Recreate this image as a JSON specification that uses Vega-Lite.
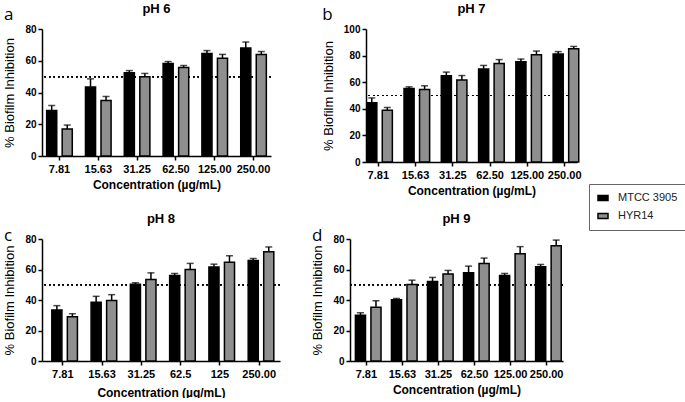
{
  "$schema": "https://vega.github.io/schema/vega-lite/v6.json",
  "padding": {"left": 3, "top": 3, "right": 0, "bottom": 0},
  "background": "white",
  "datasets": {
    "d": [
      {"ph": "pH 6", "conc": "7.81", "strain": "MTCC 3905", "v": 28.7, "e": 31.8},
      {"ph": "pH 6", "conc": "7.81", "strain": "HYR14", "v": 17, "e": 19.5},
      {"ph": "pH 6", "conc": "15.63", "strain": "MTCC 3905", "v": 43.5, "e": 48.6},
      {"ph": "pH 6", "conc": "15.63", "strain": "HYR14", "v": 35, "e": 37.5},
      {"ph": "pH 6", "conc": "31.25", "strain": "MTCC 3905", "v": 52.5, "e": 53.8},
      {"ph": "pH 6", "conc": "31.25", "strain": "HYR14", "v": 50, "e": 52},
      {"ph": "pH 6", "conc": "62.50", "strain": "MTCC 3905", "v": 58.2, "e": 59.5},
      {"ph": "pH 6", "conc": "62.50", "strain": "HYR14", "v": 55.7, "e": 57},
      {"ph": "pH 6", "conc": "125.00", "strain": "MTCC 3905", "v": 64.5, "e": 66.4},
      {"ph": "pH 6", "conc": "125.00", "strain": "HYR14", "v": 61.6, "e": 64},
      {"ph": "pH 6", "conc": "250.00", "strain": "MTCC 3905", "v": 68, "e": 71.8},
      {"ph": "pH 6", "conc": "250.00", "strain": "HYR14", "v": 63.9, "e": 65.8},
      {"ph": "pH 7", "conc": "7.81", "strain": "MTCC 3905", "v": 44.5, "e": 48.2},
      {"ph": "pH 7", "conc": "7.81", "strain": "HYR14", "v": 39, "e": 41},
      {"ph": "pH 7", "conc": "15.63", "strain": "MTCC 3905", "v": 55.3, "e": 56.5},
      {"ph": "pH 7", "conc": "15.63", "strain": "HYR14", "v": 54.5, "e": 57.3},
      {"ph": "pH 7", "conc": "31.25", "strain": "MTCC 3905", "v": 64.8, "e": 67.6},
      {"ph": "pH 7", "conc": "31.25", "strain": "HYR14", "v": 61.6, "e": 65},
      {"ph": "pH 7", "conc": "62.50", "strain": "MTCC 3905", "v": 70, "e": 72.6},
      {"ph": "pH 7", "conc": "62.50", "strain": "HYR14", "v": 74, "e": 77},
      {"ph": "pH 7", "conc": "125.00", "strain": "MTCC 3905", "v": 75.4, "e": 77.4},
      {"ph": "pH 7", "conc": "125.00", "strain": "HYR14", "v": 80.7, "e": 83.4},
      {"ph": "pH 7", "conc": "250.00", "strain": "MTCC 3905", "v": 81.2, "e": 83},
      {"ph": "pH 7", "conc": "250.00", "strain": "HYR14", "v": 85.2, "e": 86.9},
      {"ph": "pH 8", "conc": "7.81", "strain": "MTCC 3905", "v": 33.5, "e": 36.3},
      {"ph": "pH 8", "conc": "7.81", "strain": "HYR14", "v": 29, "e": 31},
      {"ph": "pH 8", "conc": "15.63", "strain": "MTCC 3905", "v": 38.5, "e": 42.4},
      {"ph": "pH 8", "conc": "15.63", "strain": "HYR14", "v": 39.6, "e": 43.5},
      {"ph": "pH 8", "conc": "31.25", "strain": "MTCC 3905", "v": 50.4, "e": 51.3},
      {"ph": "pH 8", "conc": "31.25", "strain": "HYR14", "v": 53.5, "e": 57.8},
      {"ph": "pH 8", "conc": "62.5", "strain": "MTCC 3905", "v": 56.1, "e": 57.4},
      {"ph": "pH 8", "conc": "62.5", "strain": "HYR14", "v": 60, "e": 64},
      {"ph": "pH 8", "conc": "125", "strain": "MTCC 3905", "v": 61.7, "e": 63.5},
      {"ph": "pH 8", "conc": "125", "strain": "HYR14", "v": 64.8, "e": 69},
      {"ph": "pH 8", "conc": "250.00", "strain": "MTCC 3905", "v": 65.9, "e": 67.2},
      {"ph": "pH 8", "conc": "250.00", "strain": "HYR14", "v": 71.7, "e": 74.8},
      {"ph": "pH 9", "conc": "7.81", "strain": "MTCC 3905", "v": 30, "e": 31.6},
      {"ph": "pH 9", "conc": "7.81", "strain": "HYR14", "v": 35.3, "e": 39.5},
      {"ph": "pH 9", "conc": "15.63", "strain": "MTCC 3905", "v": 40.1, "e": 41},
      {"ph": "pH 9", "conc": "15.63", "strain": "HYR14", "v": 50.2, "e": 53},
      {"ph": "pH 9", "conc": "31.25", "strain": "MTCC 3905", "v": 52.2, "e": 54.8},
      {"ph": "pH 9", "conc": "31.25", "strain": "HYR14", "v": 57, "e": 59.4},
      {"ph": "pH 9", "conc": "62.50", "strain": "MTCC 3905", "v": 57.9, "e": 62.2},
      {"ph": "pH 9", "conc": "62.50", "strain": "HYR14", "v": 64, "e": 67.5},
      {"ph": "pH 9", "conc": "125.00", "strain": "MTCC 3905", "v": 56.1, "e": 57.4},
      {"ph": "pH 9", "conc": "125.00", "strain": "HYR14", "v": 70.4, "e": 75},
      {"ph": "pH 9", "conc": "250.00", "strain": "MTCC 3905", "v": 61.8, "e": 63.3},
      {"ph": "pH 9", "conc": "250.00", "strain": "HYR14", "v": 75.6, "e": 79.3}
    ]
  },
  "data": {"name": "d"},
  "vconcat": [
    {
      "hconcat": [
        {
          "title": {"text": "a", "anchor": "start", "offset": -21, "font": "Open Sans", "fontSize": 17, "fontWeight": "normal", "color": "black"},
          "vconcat": [
            {
              "title": {"text": "pH 6", "offset": 8},
              "width": 229, "height": 127,
              "transform": [{"filter": "datum.ph === 'pH 6'"}],
              "layer": [
                {"mark": {"type": "rule", "strokeDash": [1.5, 3], "strokeWidth": 1.2, "color": "black"}, "encoding": {"y": {"datum": 50, "type": "quantitative", "scale": {"domain": [0, 80], "nice": false}, "axis": {"values": [0, 20, 40, 60, 80]}, "title": "% Biofilm Inhibition"}}},
                {"mark": {"type": "rule", "strokeWidth": 1.5, "color": "black"}, "encoding": {
                  "x": {"field": "conc", "type": "nominal", "sort": null, "scale": {"paddingInner": 0.34, "paddingOuter": 0.12}, "title": "Concentration (µg/mL)"},
                  "xOffset": {"field": "strain", "sort": ["MTCC 3905", "HYR14"], "scale": {"paddingInner": 0.35}},
                  "y": {"field": "v", "type": "quantitative", "scale": {"domain": [0, 80], "nice": false}, "axis": {"values": [0, 20, 40, 60, 80]}, "title": "% Biofilm Inhibition"}, "y2": {"field": "e"}}},
                {"mark": {"type": "tick", "thickness": 1.5, "size": 7, "color": "black"}, "encoding": {
                  "x": {"field": "conc", "type": "nominal", "sort": null, "scale": {"paddingInner": 0.34, "paddingOuter": 0.12}, "title": "Concentration (µg/mL)"},
                  "xOffset": {"field": "strain", "sort": ["MTCC 3905", "HYR14"], "scale": {"paddingInner": 0.35}},
                  "y": {"field": "e", "type": "quantitative", "scale": {"domain": [0, 80], "nice": false}, "axis": {"values": [0, 20, 40, 60, 80]}, "title": "% Biofilm Inhibition"}}},
                {"mark": {"type": "bar", "stroke": "black", "strokeWidth": 1.5}, "encoding": {
                  "x": {"field": "conc", "type": "nominal", "sort": null, "scale": {"paddingInner": 0.34, "paddingOuter": 0.12}, "title": "Concentration (µg/mL)"},
                  "xOffset": {"field": "strain", "sort": ["MTCC 3905", "HYR14"], "scale": {"paddingInner": 0.35}},
                  "y": {"field": "v", "type": "quantitative", "scale": {"domain": [0, 80], "nice": false}, "axis": {"values": [0, 20, 40, 60, 80]}, "title": "% Biofilm Inhibition"},
                  "color": {"field": "strain", "type": "nominal", "sort": ["MTCC 3905", "HYR14"], "scale": {"domain": ["MTCC 3905", "HYR14"], "range": ["#000000", "#8f8f8f"]}, "legend": {"orient": "none", "legendX": 547, "legendY": 155}}
                }}
              ]
            }
          ]
        },
        {
          "title": {"text": "b", "anchor": "start", "offset": -21, "font": "Open Sans", "fontSize": 17, "fontWeight": "normal", "color": "black"},
          "vconcat": [
            {
              "title": {"text": "pH 7", "offset": 8},
              "width": 211, "height": 133,
              "transform": [{"filter": "datum.ph === 'pH 7'"}],
              "layer": [
                {"mark": {"type": "rule", "strokeDash": [1.5, 3], "strokeWidth": 1.2, "color": "black"}, "encoding": {"y": {"datum": 50, "type": "quantitative", "scale": {"domain": [0, 100], "nice": false}, "axis": {"values": [0, 20, 40, 60, 80, 100]}, "title": "% Biofilm Inhibition"}}},
                {"mark": {"type": "rule", "strokeWidth": 1.5, "color": "black"}, "encoding": {
                  "x": {"field": "conc", "type": "nominal", "sort": null, "scale": {"paddingInner": 0.38, "paddingOuter": 0.02}, "title": "Concentration (µg/mL)"},
                  "xOffset": {"field": "strain", "sort": ["MTCC 3905", "HYR14"], "scale": {"paddingInner": 0.35}},
                  "y": {"field": "v", "type": "quantitative", "scale": {"domain": [0, 100], "nice": false}, "axis": {"values": [0, 20, 40, 60, 80, 100]}, "title": "% Biofilm Inhibition"}, "y2": {"field": "e"}}},
                {"mark": {"type": "tick", "thickness": 1.5, "size": 7, "color": "black"}, "encoding": {
                  "x": {"field": "conc", "type": "nominal", "sort": null, "scale": {"paddingInner": 0.38, "paddingOuter": 0.02}, "title": "Concentration (µg/mL)"},
                  "xOffset": {"field": "strain", "sort": ["MTCC 3905", "HYR14"], "scale": {"paddingInner": 0.35}},
                  "y": {"field": "e", "type": "quantitative", "scale": {"domain": [0, 100], "nice": false}, "axis": {"values": [0, 20, 40, 60, 80, 100]}, "title": "% Biofilm Inhibition"}}},
                {"mark": {"type": "bar", "stroke": "black", "strokeWidth": 1.5}, "encoding": {
                  "x": {"field": "conc", "type": "nominal", "sort": null, "scale": {"paddingInner": 0.38, "paddingOuter": 0.02}, "title": "Concentration (µg/mL)"},
                  "xOffset": {"field": "strain", "sort": ["MTCC 3905", "HYR14"], "scale": {"paddingInner": 0.35}},
                  "y": {"field": "v", "type": "quantitative", "scale": {"domain": [0, 100], "nice": false}, "axis": {"values": [0, 20, 40, 60, 80, 100]}, "title": "% Biofilm Inhibition"},
                  "color": {"field": "strain", "type": "nominal", "sort": ["MTCC 3905", "HYR14"], "scale": {"domain": ["MTCC 3905", "HYR14"], "range": ["#000000", "#8f8f8f"]}, "legend": {"orient": "none", "legendX": 547, "legendY": 155}}
                }}
              ]
            }
          ]
        }
      ],
      "spacing": 50
    },
    {
      "hconcat": [
        {
          "title": {"text": "c", "anchor": "start", "offset": -32, "font": "Open Sans", "fontSize": 17, "fontWeight": "normal", "color": "black"},
          "vconcat": [
            {
              "title": {"text": "pH 8", "offset": 8},
              "width": 238, "height": 122,
              "transform": [{"filter": "datum.ph === 'pH 8'"}],
              "layer": [
                {"mark": {"type": "rule", "strokeDash": [1.5, 3], "strokeWidth": 1.2, "color": "black"}, "encoding": {"y": {"datum": 50, "type": "quantitative", "scale": {"domain": [0, 80], "nice": false}, "axis": {"values": [0, 20, 40, 60, 80]}, "title": "% Biofilm Inhibition"}}},
                {"mark": {"type": "rule", "strokeWidth": 1.5, "color": "black"}, "encoding": {
                  "x": {"field": "conc", "type": "nominal", "sort": null, "scale": {"paddingInner": 0.44, "paddingOuter": 0.25}, "axis": {"titlePadding": 8}, "title": "Concentration (µg/mL)"},
                  "xOffset": {"field": "strain", "sort": ["MTCC 3905", "HYR14"], "scale": {"paddingInner": 0.4}},
                  "y": {"field": "v", "type": "quantitative", "scale": {"domain": [0, 80], "nice": false}, "axis": {"values": [0, 20, 40, 60, 80]}, "title": "% Biofilm Inhibition"}, "y2": {"field": "e"}}},
                {"mark": {"type": "tick", "thickness": 1.5, "size": 7, "color": "black"}, "encoding": {
                  "x": {"field": "conc", "type": "nominal", "sort": null, "scale": {"paddingInner": 0.44, "paddingOuter": 0.25}, "axis": {"titlePadding": 8}, "title": "Concentration (µg/mL)"},
                  "xOffset": {"field": "strain", "sort": ["MTCC 3905", "HYR14"], "scale": {"paddingInner": 0.4}},
                  "y": {"field": "e", "type": "quantitative", "scale": {"domain": [0, 80], "nice": false}, "axis": {"values": [0, 20, 40, 60, 80]}, "title": "% Biofilm Inhibition"}}},
                {"mark": {"type": "bar", "stroke": "black", "strokeWidth": 1.5}, "encoding": {
                  "x": {"field": "conc", "type": "nominal", "sort": null, "scale": {"paddingInner": 0.44, "paddingOuter": 0.25}, "axis": {"titlePadding": 8}, "title": "Concentration (µg/mL)"},
                  "xOffset": {"field": "strain", "sort": ["MTCC 3905", "HYR14"], "scale": {"paddingInner": 0.4}},
                  "y": {"field": "v", "type": "quantitative", "scale": {"domain": [0, 80], "nice": false}, "axis": {"values": [0, 20, 40, 60, 80]}, "title": "% Biofilm Inhibition"},
                  "color": {"field": "strain", "type": "nominal", "sort": ["MTCC 3905", "HYR14"], "scale": {"domain": ["MTCC 3905", "HYR14"], "range": ["#000000", "#8f8f8f"]}, "legend": {"orient": "none", "legendX": 547, "legendY": 155}}
                }}
              ]
            }
          ]
        },
        {
          "title": {"text": "d", "anchor": "start", "offset": -32, "font": "Open Sans", "fontSize": 17, "fontWeight": "normal", "color": "black"},
          "vconcat": [
            {
              "title": {"text": "pH 9", "offset": 8},
              "width": 213, "height": 122,
              "transform": [{"filter": "datum.ph === 'pH 9'"}],
              "layer": [
                {"mark": {"type": "rule", "strokeDash": [1.5, 3], "strokeWidth": 1.2, "color": "black"}, "encoding": {"y": {"datum": 50, "type": "quantitative", "scale": {"domain": [0, 80], "nice": false}, "axis": {"values": [0, 20, 40, 60, 80]}, "title": "% Biofilm Inhibition"}}},
                {"mark": {"type": "rule", "strokeWidth": 1.5, "color": "black"}, "encoding": {
                  "x": {"field": "conc", "type": "nominal", "sort": null, "scale": {"paddingInner": 0.39, "paddingOuter": 0.15}, "title": "Concentration (µg/mL)"},
                  "xOffset": {"field": "strain", "sort": ["MTCC 3905", "HYR14"], "scale": {"paddingInner": 0.4}},
                  "y": {"field": "v", "type": "quantitative", "scale": {"domain": [0, 80], "nice": false}, "axis": {"values": [0, 20, 40, 60, 80]}, "title": "% Biofilm Inhibition"}, "y2": {"field": "e"}}},
                {"mark": {"type": "tick", "thickness": 1.5, "size": 7, "color": "black"}, "encoding": {
                  "x": {"field": "conc", "type": "nominal", "sort": null, "scale": {"paddingInner": 0.39, "paddingOuter": 0.15}, "title": "Concentration (µg/mL)"},
                  "xOffset": {"field": "strain", "sort": ["MTCC 3905", "HYR14"], "scale": {"paddingInner": 0.4}},
                  "y": {"field": "e", "type": "quantitative", "scale": {"domain": [0, 80], "nice": false}, "axis": {"values": [0, 20, 40, 60, 80]}, "title": "% Biofilm Inhibition"}}},
                {"mark": {"type": "bar", "stroke": "black", "strokeWidth": 1.5}, "encoding": {
                  "x": {"field": "conc", "type": "nominal", "sort": null, "scale": {"paddingInner": 0.39, "paddingOuter": 0.15}, "title": "Concentration (µg/mL)"},
                  "xOffset": {"field": "strain", "sort": ["MTCC 3905", "HYR14"], "scale": {"paddingInner": 0.4}},
                  "y": {"field": "v", "type": "quantitative", "scale": {"domain": [0, 80], "nice": false}, "axis": {"values": [0, 20, 40, 60, 80]}, "title": "% Biofilm Inhibition"},
                  "color": {"field": "strain", "type": "nominal", "sort": ["MTCC 3905", "HYR14"], "scale": {"domain": ["MTCC 3905", "HYR14"], "range": ["#000000", "#8f8f8f"]}, "legend": {"orient": "none", "legendX": 547, "legendY": 155}}
                }}
              ]
            }
          ]
        }
      ],
      "spacing": 30
    }
  ],
  "spacing": 17,
  "config": {
    "view": {"stroke": null},
    "font": "Liberation Sans",
    "axis": {"domainColor": "black", "domainWidth": 1.5, "tickColor": "black", "tickWidth": 1.5, "tickSize": 4, "labelFont": "Liberation Sans", "labelFontWeight": "bold", "labelFontSize": 11, "labelColor": "black", "titleColor": "black", "titleFont": "Liberation Sans", "grid": false},
    "axisX": {"labelAngle": 0, "titleFontSize": 12, "titleFontWeight": "bold", "titlePadding": 5, "labelPadding": 3},
    "axisY": {"titleFontSize": 13, "titleFontWeight": "normal", "labelFontSize": 10, "titlePadding": 8},
    "title": {"font": "Liberation Sans", "fontSize": 13, "fontWeight": "bold", "color": "black"},
    "legend": {"title": null, "strokeColor": "#666666", "padding": 8, "symbolType": "M-1,-0.5H1V0.5H-1Z", "symbolSize": 100, "symbolStrokeColor": "black", "symbolStrokeWidth": 1.5, "labelFont": "Liberation Sans", "labelFontSize": 11, "labelColor": "#222222", "rowPadding": 6, "labelOffset": 9}
  }
}
